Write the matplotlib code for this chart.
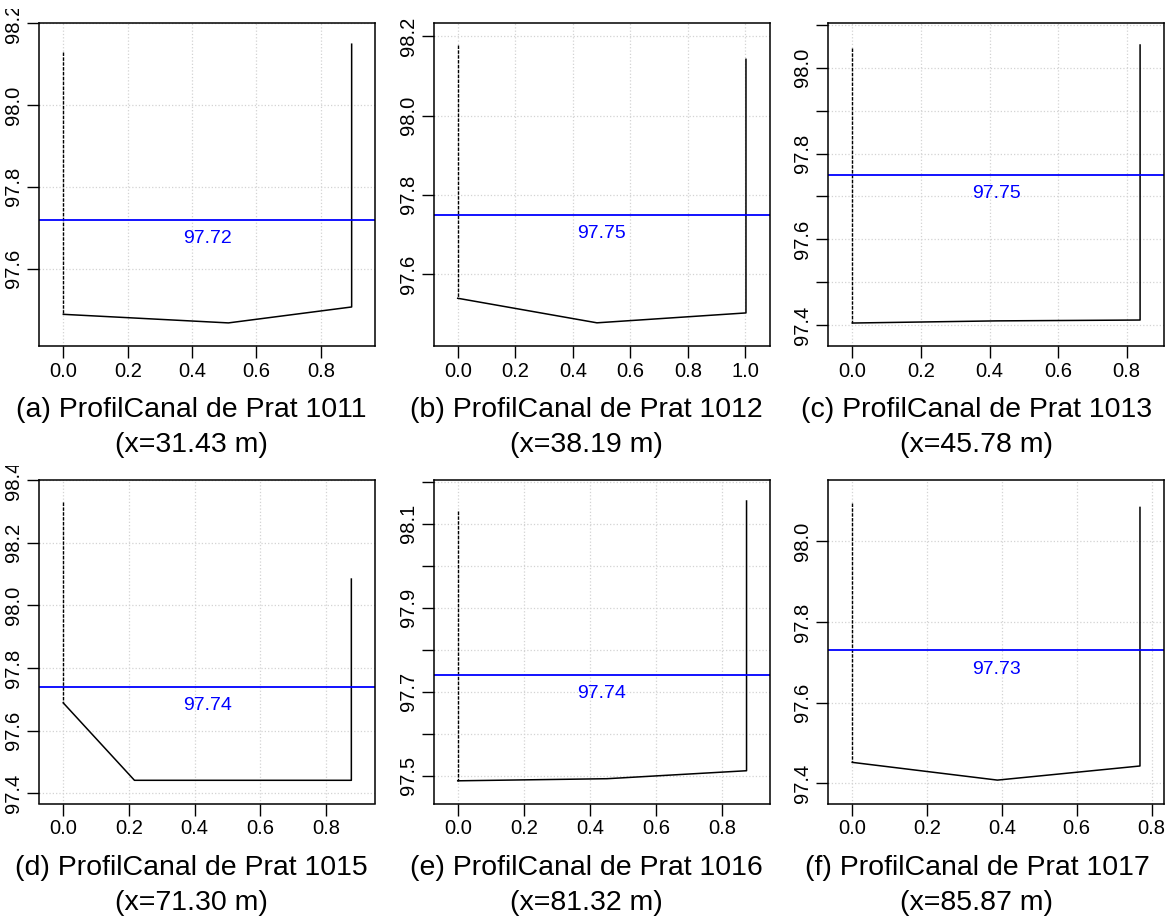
import numpy as np
import matplotlib
matplotlib.use("Agg")
import matplotlib.pyplot as plt
from matplotlib.transforms import Bbox

plt.rcParams['font.family'] = ['Liberation Sans', 'DejaVu Sans']

### DATA ###
captions = ["(a) ProfilCanal de Prat 1011", "(b) ProfilCanal de Prat 1012",
            "(c) ProfilCanal de Prat 1013", "(d) ProfilCanal de Prat 1015",
            "(e) ProfilCanal de Prat 1016", "(f) ProfilCanal de Prat 1017"]
positions = ["(x=31.43 m)", "(x=38.19 m)", "(x=45.78 m)",
             "(x=71.30 m)", "(x=81.32 m)", "(x=85.87 m)"]

water_levels = [97.72, 97.75, 97.75, 97.74, 97.74, 97.73]

# cross-section points: left bank top, bed points, right bank top
profile_x = [
    [0.0, 0.0, 0.513, 0.896, 0.896],
    [0.0, 0.0, 0.484, 1.002, 1.002],
    [0.0, 0.0, 0.420, 0.839, 0.839],
    [0.0, 0.0, 0.217, 0.878, 0.878],
    [0.0, 0.0, 0.451, 0.873, 0.873],
    [0.0, 0.0, 0.388, 0.769, 0.769],
]
profile_z = [
    [98.130, 97.488, 97.467, 97.506, 98.149],
    [98.178, 97.539, 97.477, 97.502, 98.142],
    [98.047, 97.405, 97.410, 97.412, 98.053],
    [98.330, 97.689, 97.442, 97.442, 98.084],
    [98.130, 97.488, 97.493, 97.512, 98.154],
    [98.094, 97.452, 97.408, 97.443, 98.084],
]

x_ticks = [[0.0, 0.2, 0.4, 0.6, 0.8], [0.0, 0.2, 0.4, 0.6, 0.8, 1.0],
           [0.0, 0.2, 0.4, 0.6, 0.8], [0.0, 0.2, 0.4, 0.6, 0.8],
           [0.0, 0.2, 0.4, 0.6, 0.8], [0.0, 0.2, 0.4, 0.6, 0.8]]
y_ticks = [
    [97.6, 97.8, 98.0, 98.2],
    [97.6, 97.8, 98.0, 98.2],
    [97.4, 97.5, 97.6, 97.7, 97.8, 97.9, 98.0, 98.1],
    [97.4, 97.6, 97.8, 98.0, 98.2, 98.4],
    [97.5, 97.6, 97.7, 97.8, 97.9, 98.0, 98.1, 98.2],
    [97.4, 97.6, 97.8, 98.0],
]
y_labels = [
    ["97.6", "97.8", "98.0", "98.2"],
    ["97.6", "97.8", "98.0", "98.2"],
    ["97.4", "", "97.6", "", "97.8", "", "98.0", ""],
    ["97.4", "97.6", "97.8", "98.0", "98.2", "98.4"],
    ["97.5", "", "97.7", "", "97.9", "", "98.1", ""],
    ["97.4", "97.6", "97.8", "98.0"],
]
x_lims = [(-0.0747, 0.9695), (-0.0835, 1.0845), (-0.070, 0.9096),
          (-0.073, 0.951), (-0.0726, 0.943), (-0.064, 0.834)]
y_lims = [(97.41, 98.2016), (97.418, 98.2345), (97.351, 98.105),
          (97.368, 98.40), (97.434, 98.204), (97.35, 98.152)]

### FIGURE ###
W, H = 1173, 921
fig = plt.figure(figsize=(W / 100, H / 100), dpi=100)

col_left = [39.3, 433.7, 828.3]
row_top = [22.7, 480.0]
ax_w, ax_h = 336.0, 323.5
cap_x = [191, 586, 977]
clip_top = [9, 466]

for i in range(6):
    r, c = divmod(i, 3)
    left = col_left[c]
    top = row_top[r]
    ax = fig.add_axes([left / W, 1 - (top + ax_h) / H, ax_w / W, ax_h / H])

    xs = profile_x[i]
    zs = profile_z[i]
    ax.plot(xs[:2], zs[:2], color='black', lw=1.0, ls=(0, (2.5, 1)))
    ax.plot(xs[1:], zs[1:], color='black', lw=1.1)
    ax.axhline(water_levels[i], color='blue', lw=1.3)
    ax.annotate("%.2f" % water_levels[i], xy=(0.5, water_levels[i]),
                xycoords=('axes fraction', 'data'), xytext=(0, -7.5),
                textcoords='offset points', ha='center', va='top',
                color='blue', fontsize=14)

    ax.set_xlim(x_lims[i])
    ax.set_ylim(y_lims[i])
    ax.set_xticks(x_ticks[i])
    ax.set_xticklabels(["%.1f" % v for v in x_ticks[i]])
    ax.set_yticks(y_ticks[i])
    ax.set_yticklabels(y_labels[i])
    ax.tick_params(direction='out', length=8.5, width=1.0, labelsize=14.5,
                   pad=3, colors='black')
    ax.tick_params(axis='y', labelrotation=90)
    for lbl in ax.get_yticklabels():
        lbl.set_va('center')
        lbl.set_clip_box(Bbox.from_extents(0, 0, W, H - clip_top[r]))
        lbl.set_clip_on(True)
    ax.grid(True, color='#d3d3d3', ls=':', lw=0.9)
    ax.set_axisbelow(True)
    for sp in ax.spines.values():
        sp.set_linewidth(1.1)

    ybase = top + ax_h
    fig.text(cap_x[c] / W, 1 - (ybase + 64) / H, captions[i],
             ha='center', va='center', fontsize=20.5)
    fig.text(cap_x[c] / W, 1 - (ybase + 99) / H, positions[i],
             ha='center', va='center', fontsize=20.5)

fig.savefig("out.png", dpi=100)
